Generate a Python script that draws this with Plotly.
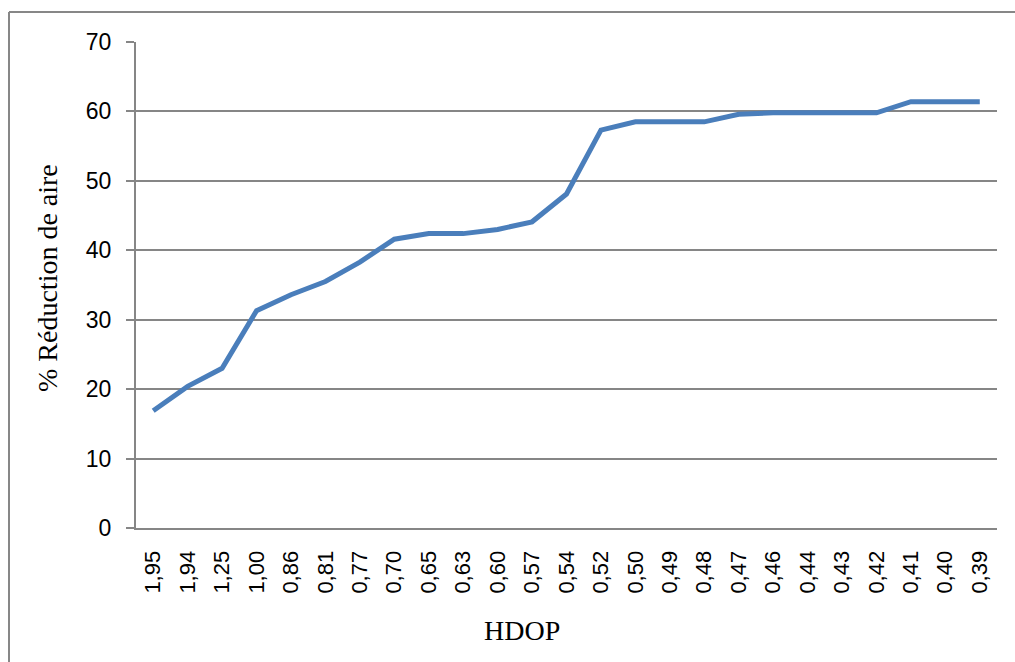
import plotly.graph_objects as go

# HDOP threshold (x categories) and area reduction in percent
hdop_labels = ["1,95", "1,94", "1,25", "1,00", "0,86", "0,81", "0,77", "0,70",
               "0,65", "0,63", "0,60", "0,57", "0,54", "0,52", "0,50", "0,49",
               "0,48", "0,47", "0,46", "0,44", "0,43", "0,42", "0,41", "0,40",
               "0,39"]
reduction_pct = [16.9, 20.4, 23.0, 31.3, 33.6, 35.5, 38.3, 41.6,
                 42.4, 42.4, 43.0, 44.1, 48.1, 57.3, 58.5, 58.5,
                 58.5, 59.6, 59.8, 59.8, 59.8, 59.8, 61.4, 61.4,
                 61.4]
y_ticks = [0, 10, 20, 30, 40, 50, 60, 70]

W, H = 1015, 662
L, R, T, B = 136, 18, 42, 134
pw, ph = W - L - R, H - T - B

def px(x):
    return (x - L) / pw

def py(y):
    return (H - B - y) / ph

GRAY = "#868686"

fig = go.Figure()
fig.add_trace(go.Scatter(
    x=hdop_labels, y=reduction_pct, mode="lines",
    line=dict(color="#4A7EBB", width=5),
    hoverinfo="x+y", showlegend=False,
))

fig.update_layout(
    width=W, height=H,
    margin=dict(l=L, r=R, t=T, b=B),
    paper_bgcolor="white", plot_bgcolor="white",
    font=dict(family="Liberation Sans, Arial, sans-serif", size=22, color="black"),
    xaxis=dict(
        type="category", range=[-0.5, len(hdop_labels) - 0.5],
        tickangle=-90, showgrid=False, zeroline=False,
        showline=True, linecolor=GRAY, linewidth=2,
        ticks="", ticklabelstandoff=12,
        tickfont=dict(size=22),
    ),
    yaxis=dict(
        range=[0, 70], tickvals=y_ticks,
        showgrid=True, gridcolor=GRAY, gridwidth=1.5,
        zeroline=False, showline=True, linecolor=GRAY, linewidth=2,
        ticks="outside", ticklen=8, tickcolor=GRAY, tickwidth=2,
        ticklabelstandoff=10,
        tickfont=dict(size=23),
    ),
    annotations=[
        dict(text="% Réduction de aire", xref="paper", yref="paper",
             x=px(47), y=py(278), textangle=-90, showarrow=False,
             xanchor="center", yanchor="middle",
             font=dict(family="Liberation Serif, Times New Roman, serif", size=28)),
        dict(text="HDOP", xref="paper", yref="paper",
             x=px(522), y=py(630), showarrow=False,
             xanchor="center", yanchor="middle",
             font=dict(family="Liberation Serif, Times New Roman, serif", size=28)),
    ],
    shapes=[
        dict(type="line", xref="paper", yref="paper",
             x0=px(9), x1=px(9), y0=py(12), y1=py(H + 5),
             line=dict(color="#878787", width=2)),
        dict(type="line", xref="paper", yref="paper",
             x0=px(9), x1=px(W + 5), y0=py(12), y1=py(12),
             line=dict(color="#878787", width=2)),
    ],
)

fig.write_html("out.html")
